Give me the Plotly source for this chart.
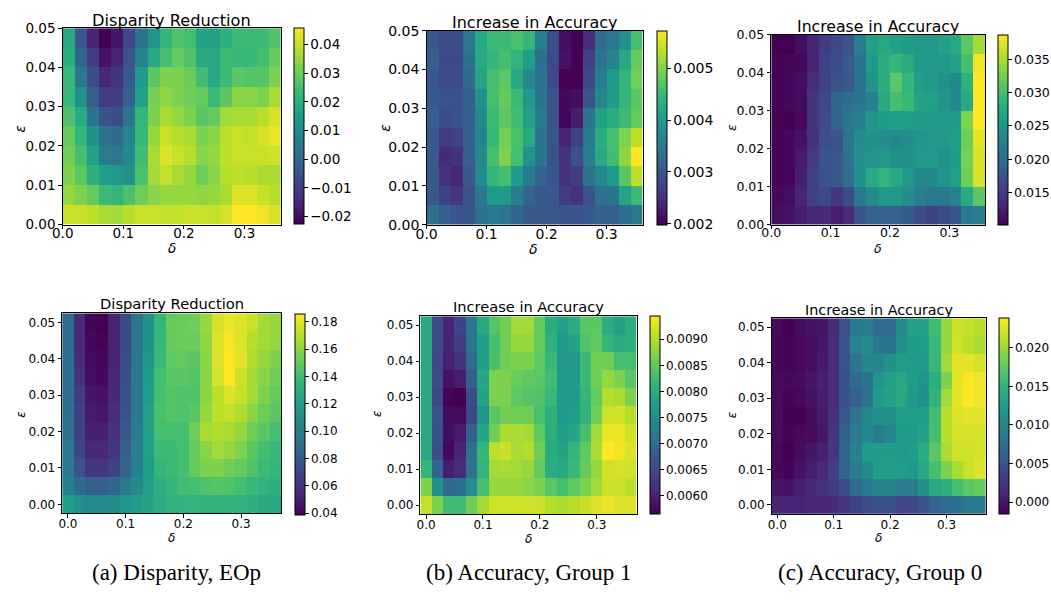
import plotly.graph_objects as go

W, H = 1051, 600

# ---------------- axis categories ----------------
delta_top = [0.01, 0.03, 0.05, 0.07, 0.09, 0.11, 0.13, 0.15, 0.17, 0.19,
             0.21, 0.23, 0.25, 0.27, 0.29, 0.31, 0.33, 0.35]
eps_top = [0.0475, 0.0425, 0.0375, 0.0325, 0.0275, 0.0225, 0.0175, 0.0125, 0.0075, 0.0025]
delta_bot = [0.00, 0.02, 0.04, 0.06, 0.08, 0.10, 0.12, 0.14, 0.16, 0.18,
             0.20, 0.22, 0.24, 0.26, 0.28, 0.30, 0.32, 0.34, 0.36]
eps_bot = [0.050, 0.045, 0.040, 0.035, 0.030, 0.025, 0.020, 0.015, 0.010, 0.005, 0.000]

# ---------------- values (rows listed top -> bottom) ----------------
disparity_top = [
    [0.0184, -0.0035, -0.0159, -0.0227, -0.0186, -0.0076, 0.0033, 0.0129, 0.0225, 0.0266, 0.0253, 0.0170, 0.0163, 0.0205, 0.0239, 0.0239, 0.0239, 0.0266],
    [0.0198, 0.0000, -0.0104, -0.0193, -0.0159, -0.0049, 0.0081, 0.0184, 0.0253, 0.0294, 0.0266, 0.0184, 0.0184, 0.0239, 0.0232, 0.0232, 0.0253, 0.0294],
    [0.0232, 0.0047, -0.0063, -0.0152, -0.0124, -0.0035, 0.0143, 0.0280, 0.0321, 0.0321, 0.0300, 0.0246, 0.0184, 0.0239, 0.0280, 0.0273, 0.0273, 0.0321],
    [0.0232, 0.0116, -0.0022, -0.0104, -0.0104, -0.0015, 0.0163, 0.0314, 0.0342, 0.0321, 0.0307, 0.0294, 0.0239, 0.0280, 0.0335, 0.0335, 0.0321, 0.0369],
    [0.0260, 0.0184, 0.0033, -0.0049, -0.0063, 0.0040, 0.0225, 0.0321, 0.0369, 0.0348, 0.0321, 0.0280, 0.0294, 0.0362, 0.0369, 0.0369, 0.0383, 0.0417],
    [0.0294, 0.0225, 0.0116, 0.0033, 0.0006, 0.0088, 0.0232, 0.0348, 0.0403, 0.0383, 0.0369, 0.0321, 0.0335, 0.0390, 0.0403, 0.0396, 0.0417, 0.0437],
    [0.0307, 0.0253, 0.0163, 0.0061, 0.0047, 0.0102, 0.0246, 0.0369, 0.0424, 0.0403, 0.0383, 0.0335, 0.0348, 0.0390, 0.0403, 0.0403, 0.0403, 0.0410],
    [0.0321, 0.0280, 0.0205, 0.0157, 0.0136, 0.0116, 0.0260, 0.0362, 0.0396, 0.0369, 0.0348, 0.0307, 0.0335, 0.0383, 0.0390, 0.0383, 0.0369, 0.0369],
    [0.0348, 0.0321, 0.0294, 0.0239, 0.0225, 0.0260, 0.0307, 0.0335, 0.0348, 0.0348, 0.0348, 0.0342, 0.0348, 0.0369, 0.0424, 0.0424, 0.0403, 0.0383],
    [0.0403, 0.0403, 0.0390, 0.0369, 0.0362, 0.0383, 0.0403, 0.0403, 0.0396, 0.0396, 0.0403, 0.0403, 0.0396, 0.0417, 0.0458, 0.0458, 0.0444, 0.0417],
]

acc_g1_top = [
    [0.00303, 0.00284, 0.00284, 0.00348, 0.00423, 0.00453, 0.00453, 0.00464, 0.00446, 0.00363, 0.00284, 0.00213, 0.00198, 0.00247, 0.00329, 0.00348, 0.00386, 0.00461],
    [0.00311, 0.00281, 0.00281, 0.00337, 0.00423, 0.00446, 0.00461, 0.00442, 0.00408, 0.00337, 0.00281, 0.00217, 0.00198, 0.00273, 0.00341, 0.00367, 0.00423, 0.00483],
    [0.00303, 0.00284, 0.00284, 0.00326, 0.00416, 0.00461, 0.00476, 0.00423, 0.00374, 0.00341, 0.00281, 0.00198, 0.00198, 0.00281, 0.00356, 0.00404, 0.00446, 0.00491],
    [0.00303, 0.00296, 0.00296, 0.00311, 0.00386, 0.00461, 0.00483, 0.00453, 0.00397, 0.00341, 0.00292, 0.00206, 0.00213, 0.00299, 0.00374, 0.00404, 0.00446, 0.00476],
    [0.00311, 0.00288, 0.00296, 0.00311, 0.00374, 0.00453, 0.00476, 0.00457, 0.00412, 0.00348, 0.00292, 0.00206, 0.00228, 0.00344, 0.00412, 0.00431, 0.00453, 0.00483],
    [0.00303, 0.00266, 0.00273, 0.00311, 0.00367, 0.00449, 0.00491, 0.00464, 0.00423, 0.00341, 0.00299, 0.00236, 0.00273, 0.00352, 0.00431, 0.00461, 0.00498, 0.00536],
    [0.00303, 0.00243, 0.00251, 0.00311, 0.00374, 0.00461, 0.00498, 0.00461, 0.00389, 0.00344, 0.00292, 0.00254, 0.00292, 0.00356, 0.00423, 0.00457, 0.00509, 0.00573],
    [0.00303, 0.00251, 0.00236, 0.00303, 0.00374, 0.00446, 0.00461, 0.00404, 0.00359, 0.00318, 0.00299, 0.00254, 0.00266, 0.00341, 0.00374, 0.00404, 0.00476, 0.00536],
    [0.00303, 0.00273, 0.00258, 0.00296, 0.00348, 0.00404, 0.00404, 0.00356, 0.00318, 0.00303, 0.00303, 0.00266, 0.00254, 0.00296, 0.00337, 0.00344, 0.00416, 0.00453],
    [0.00337, 0.00311, 0.00299, 0.00299, 0.00337, 0.00348, 0.00341, 0.00322, 0.00303, 0.00303, 0.00303, 0.00296, 0.00296, 0.00303, 0.00311, 0.00311, 0.00333, 0.00348],
]

acc_g0_top = [
    [0.0102, 0.0102, 0.0113, 0.0131, 0.0153, 0.0165, 0.0179, 0.0222, 0.0264, 0.0273, 0.0264, 0.0259, 0.0253, 0.0253, 0.0264, 0.0273, 0.0313, 0.0347],
    [0.0105, 0.0108, 0.0108, 0.0131, 0.0159, 0.0168, 0.0185, 0.0213, 0.0256, 0.0279, 0.0290, 0.0276, 0.0259, 0.0256, 0.0253, 0.0264, 0.0302, 0.0381],
    [0.0105, 0.0108, 0.0113, 0.0139, 0.0159, 0.0176, 0.0182, 0.0210, 0.0250, 0.0279, 0.0313, 0.0290, 0.0262, 0.0253, 0.0245, 0.0236, 0.0282, 0.0387],
    [0.0105, 0.0108, 0.0111, 0.0145, 0.0165, 0.0196, 0.0205, 0.0213, 0.0230, 0.0273, 0.0302, 0.0293, 0.0267, 0.0264, 0.0247, 0.0236, 0.0273, 0.0387],
    [0.0105, 0.0102, 0.0108, 0.0145, 0.0168, 0.0193, 0.0216, 0.0225, 0.0250, 0.0259, 0.0262, 0.0262, 0.0259, 0.0259, 0.0256, 0.0259, 0.0330, 0.0387],
    [0.0105, 0.0108, 0.0116, 0.0145, 0.0170, 0.0179, 0.0213, 0.0242, 0.0245, 0.0242, 0.0236, 0.0242, 0.0250, 0.0253, 0.0253, 0.0262, 0.0324, 0.0376],
    [0.0105, 0.0108, 0.0122, 0.0153, 0.0176, 0.0182, 0.0213, 0.0247, 0.0250, 0.0253, 0.0245, 0.0247, 0.0253, 0.0253, 0.0245, 0.0259, 0.0327, 0.0370],
    [0.0105, 0.0108, 0.0125, 0.0159, 0.0176, 0.0182, 0.0207, 0.0247, 0.0273, 0.0287, 0.0273, 0.0253, 0.0236, 0.0236, 0.0250, 0.0264, 0.0324, 0.0370],
    [0.0108, 0.0113, 0.0131, 0.0159, 0.0165, 0.0148, 0.0170, 0.0216, 0.0239, 0.0253, 0.0253, 0.0242, 0.0222, 0.0216, 0.0216, 0.0230, 0.0273, 0.0313],
    [0.0113, 0.0116, 0.0125, 0.0136, 0.0136, 0.0125, 0.0139, 0.0176, 0.0190, 0.0190, 0.0190, 0.0185, 0.0168, 0.0159, 0.0168, 0.0179, 0.0213, 0.0222],
]

disparity_eop = [
    [0.0905, 0.0566, 0.0405, 0.0390, 0.0537, 0.0713, 0.0949, 0.1125, 0.1360, 0.1507, 0.1522, 0.1537, 0.1625, 0.1772, 0.1816, 0.1787, 0.1742, 0.1654, 0.1625],
    [0.0905, 0.0566, 0.0419, 0.0405, 0.0537, 0.0713, 0.0963, 0.1140, 0.1375, 0.1507, 0.1522, 0.1522, 0.1610, 0.1787, 0.1845, 0.1787, 0.1698, 0.1654, 0.1625],
    [0.0919, 0.0581, 0.0434, 0.0419, 0.0537, 0.0728, 0.0978, 0.1154, 0.1390, 0.1493, 0.1507, 0.1478, 0.1595, 0.1787, 0.1860, 0.1801, 0.1684, 0.1625, 0.1566],
    [0.0919, 0.0611, 0.0449, 0.0419, 0.0552, 0.0743, 0.0978, 0.1199, 0.1404, 0.1478, 0.1478, 0.1463, 0.1595, 0.1772, 0.1860, 0.1757, 0.1654, 0.1595, 0.1537],
    [0.0919, 0.0655, 0.0478, 0.0464, 0.0566, 0.0758, 0.0978, 0.1213, 0.1419, 0.1463, 0.1448, 0.1448, 0.1595, 0.1713, 0.1787, 0.1742, 0.1654, 0.1566, 0.1507],
    [0.0934, 0.0684, 0.0493, 0.0478, 0.0581, 0.0772, 0.0993, 0.1228, 0.1434, 0.1463, 0.1448, 0.1478, 0.1625, 0.1713, 0.1728, 0.1684, 0.1595, 0.1522, 0.1478],
    [0.0949, 0.0684, 0.0522, 0.0522, 0.0596, 0.0802, 0.1007, 0.1228, 0.1419, 0.1419, 0.1419, 0.1537, 0.1669, 0.1684, 0.1669, 0.1625, 0.1537, 0.1478, 0.1419],
    [0.0978, 0.0713, 0.0552, 0.0552, 0.0625, 0.0831, 0.1022, 0.1228, 0.1390, 0.1390, 0.1419, 0.1507, 0.1595, 0.1654, 0.1625, 0.1566, 0.1478, 0.1419, 0.1375],
    [0.0978, 0.0772, 0.0625, 0.0625, 0.0684, 0.0860, 0.1037, 0.1213, 0.1360, 0.1390, 0.1419, 0.1507, 0.1566, 0.1566, 0.1537, 0.1507, 0.1448, 0.1390, 0.1360],
    [0.1037, 0.0890, 0.0831, 0.0831, 0.0875, 0.0978, 0.1096, 0.1228, 0.1316, 0.1360, 0.1404, 0.1419, 0.1448, 0.1463, 0.1448, 0.1419, 0.1375, 0.1346, 0.1316],
    [0.1213, 0.1125, 0.1096, 0.1096, 0.1110, 0.1154, 0.1199, 0.1243, 0.1301, 0.1331, 0.1346, 0.1346, 0.1331, 0.1331, 0.1331, 0.1331, 0.1316, 0.1287, 0.1272],
]

acc_group1 = [
    [0.00792, 0.00652, 0.00603, 0.00641, 0.00717, 0.00792, 0.00842, 0.00861, 0.00891, 0.00891, 0.00853, 0.00800, 0.00781, 0.00800, 0.00845, 0.00845, 0.00800, 0.00781, 0.00800],
    [0.00792, 0.00652, 0.00603, 0.00633, 0.00713, 0.00777, 0.00830, 0.00861, 0.00883, 0.00883, 0.00853, 0.00808, 0.00770, 0.00785, 0.00838, 0.00849, 0.00815, 0.00796, 0.00804],
    [0.00792, 0.00648, 0.00599, 0.00622, 0.00694, 0.00777, 0.00834, 0.00861, 0.00868, 0.00868, 0.00849, 0.00819, 0.00766, 0.00766, 0.00823, 0.00861, 0.00861, 0.00830, 0.00830],
    [0.00792, 0.00652, 0.00584, 0.00595, 0.00679, 0.00789, 0.00868, 0.00868, 0.00857, 0.00849, 0.00845, 0.00827, 0.00770, 0.00770, 0.00823, 0.00861, 0.00883, 0.00868, 0.00845],
    [0.00792, 0.00648, 0.00569, 0.00565, 0.00652, 0.00785, 0.00868, 0.00868, 0.00849, 0.00842, 0.00838, 0.00819, 0.00773, 0.00770, 0.00815, 0.00853, 0.00902, 0.00895, 0.00868],
    [0.00792, 0.00664, 0.00576, 0.00576, 0.00648, 0.00762, 0.00845, 0.00861, 0.00861, 0.00861, 0.00834, 0.00804, 0.00773, 0.00777, 0.00811, 0.00861, 0.00917, 0.00917, 0.00902],
    [0.00792, 0.00660, 0.00580, 0.00592, 0.00679, 0.00789, 0.00861, 0.00895, 0.00895, 0.00891, 0.00849, 0.00800, 0.00777, 0.00789, 0.00830, 0.00891, 0.00933, 0.00933, 0.00917],
    [0.00792, 0.00656, 0.00573, 0.00603, 0.00705, 0.00815, 0.00906, 0.00914, 0.00895, 0.00902, 0.00861, 0.00800, 0.00785, 0.00815, 0.00849, 0.00895, 0.00944, 0.00936, 0.00925],
    [0.00815, 0.00686, 0.00595, 0.00614, 0.00709, 0.00811, 0.00891, 0.00895, 0.00891, 0.00883, 0.00853, 0.00800, 0.00792, 0.00819, 0.00853, 0.00883, 0.00917, 0.00921, 0.00917],
    [0.00868, 0.00755, 0.00694, 0.00705, 0.00751, 0.00830, 0.00883, 0.00883, 0.00883, 0.00876, 0.00868, 0.00845, 0.00830, 0.00849, 0.00868, 0.00891, 0.00914, 0.00914, 0.00906],
    [0.00910, 0.00868, 0.00827, 0.00827, 0.00861, 0.00891, 0.00917, 0.00917, 0.00917, 0.00917, 0.00914, 0.00902, 0.00895, 0.00902, 0.00914, 0.00925, 0.00933, 0.00925, 0.00925],
]

acc_group0 = [
    [-0.00109, -0.00160, -0.00084, -0.00033, -0.00008, 0.00145, 0.00500, 0.00881, 0.00907, 0.00729, 0.00729, 0.01059, 0.01288, 0.01313, 0.01593, 0.01974, 0.02177, 0.02151, 0.02101],
    [-0.00109, -0.00135, -0.00109, -0.00058, -0.00008, 0.00170, 0.00500, 0.00983, 0.01085, 0.00831, 0.00831, 0.01110, 0.01237, 0.01262, 0.01542, 0.01974, 0.02202, 0.02126, 0.02050],
    [-0.00109, -0.00135, -0.00109, -0.00058, 0.00018, 0.00170, 0.00500, 0.00831, 0.01034, 0.01008, 0.01135, 0.01262, 0.01237, 0.01212, 0.01542, 0.02024, 0.02278, 0.02278, 0.02228],
    [-0.00084, -0.00109, -0.00084, -0.00008, 0.00069, 0.00170, 0.00475, 0.00704, 0.00805, 0.01161, 0.01288, 0.01364, 0.01237, 0.01161, 0.01440, 0.01872, 0.02278, 0.02380, 0.02329],
    [-0.00084, -0.00135, -0.00109, -0.00033, 0.00043, 0.00170, 0.00475, 0.00627, 0.00805, 0.01237, 0.01313, 0.01364, 0.01186, 0.01110, 0.01491, 0.02024, 0.02278, 0.02380, 0.02329],
    [-0.00084, -0.00160, -0.00160, -0.00084, 0.00018, 0.00196, 0.00551, 0.00831, 0.01034, 0.01110, 0.01110, 0.01262, 0.01262, 0.01262, 0.01593, 0.02101, 0.02253, 0.02278, 0.02278],
    [-0.00084, -0.00135, -0.00109, -0.00084, -0.00008, 0.00221, 0.00602, 0.00907, 0.01034, 0.00907, 0.01008, 0.01237, 0.01237, 0.01313, 0.01618, 0.02101, 0.02228, 0.02228, 0.02228],
    [-0.00109, -0.00160, -0.00084, -0.00008, 0.00069, 0.00246, 0.00653, 0.00983, 0.01237, 0.01237, 0.01237, 0.01212, 0.01262, 0.01415, 0.01720, 0.02050, 0.02202, 0.02202, 0.02228],
    [-0.00109, -0.00135, -0.00033, 0.00043, 0.00145, 0.00297, 0.00653, 0.00907, 0.01059, 0.01262, 0.01262, 0.01262, 0.01212, 0.01364, 0.01618, 0.01872, 0.02050, 0.02177, 0.02253],
    [-0.00008, -0.00033, 0.00043, 0.00145, 0.00196, 0.00297, 0.00450, 0.00729, 0.00881, 0.00983, 0.00983, 0.00907, 0.00907, 0.01110, 0.01364, 0.01440, 0.01618, 0.01720, 0.01770],
    [0.00094, 0.00094, 0.00094, 0.00119, 0.00119, 0.00145, 0.00221, 0.00348, 0.00424, 0.00475, 0.00475, 0.00373, 0.00399, 0.00526, 0.00653, 0.00729, 0.00780, 0.00831, 0.00881],
]

# colorbar ticks
cb_ticks_1 = [-0.02, -0.01, 0.00, 0.01, 0.02, 0.03, 0.04]
cb_ticks_2 = [0.002, 0.003, 0.004, 0.005]
cb_ticks_3 = [0.015, 0.020, 0.025, 0.030, 0.035]
cb_ticks_4 = [0.04, 0.06, 0.08, 0.10, 0.12, 0.14, 0.16, 0.18]
cb_ticks_5 = [0.0060, 0.0065, 0.0070, 0.0075, 0.0080, 0.0085, 0.0090]
cb_ticks_6 = [0.000, 0.005, 0.010, 0.015, 0.020]

titles = ["Disparity Reduction", "Increase in Accuracy", "Increase in Accuracy",
          "Disparity Reduction", "Increase in Accuracy", "Increase in Accuracy"]
captions = ["(a) Disparity, EOp", "(b) Accuracy, Group 1", "(c) Accuracy, Group 0"]

# ---------------- layout (pixels) ----------------
panels = [
    dict(z=disparity_top, x=delta_top, y=eps_top, xr=[0, 0.36], yr=[0, 0.05],
         l=52.3, r=272.7, t=20.7, b=222.5, cbx=286, cbt=20.7, cbb=222.5, so=-7,
         cbticks=cb_ticks_1, cbfmt=".2f", fs=13.5, tfs=16.2, ty=13, dx=162.5, dy=247, ex=9, ey=124),
    dict(z=acc_g1_top, x=delta_top, y=eps_top, xr=[0, 0.36], yr=[0, 0.05],
         l=420.0, r=638.3, t=23.3, b=222.7, cbx=652.5, cbt=23.3, cbb=222.7, so=-7,
         cbticks=cb_ticks_2, cbfmt=".3f", fs=14, tfs=16, ty=15, dx=528.5, dy=248, ex=378, ey=123),
    dict(z=acc_g0_top, x=delta_top, y=eps_top, xr=[0, 0.36], yr=[0, 0.05],
         l=768.3, r=984.3, t=27.3, b=222.7, cbx=997.5, cbt=27.3, cbb=222.7, so=-7,
         cbticks=cb_ticks_3, cbfmt=".3f", fs=12.5, tfs=15.7, ty=19, dx=876.5, dy=247.5, ex=728, ey=123),
    dict(z=disparity_eop, x=delta_bot, y=eps_bot, xr=[-0.01, 0.37], yr=[-0.0025, 0.0525],
         l=51.7, r=273.3, t=313.7, b=519.3, cbx=287, cbt=314, cbb=520, so=-4,
         cbticks=cb_ticks_4, cbfmt=".2f", fs=12, tfs=14.7, ty=304, dx=162, dy=545, ex=10, ey=417),
    dict(z=acc_group1, x=delta_bot, y=eps_bot, xr=[-0.01, 0.37], yr=[-0.0025, 0.0525],
         l=413.7, r=632.3, t=316.7, b=520, cbx=645.5, cbt=316.7, cbb=520, so=-4,
         cbticks=cb_ticks_5, cbfmt=".4f", fs=12, tfs=14.6, ty=307, dx=522.5, dy=546, ex=370, ey=417),
    dict(z=acc_group0, x=delta_bot, y=eps_bot, xr=[-0.01, 0.37], yr=[-0.0025, 0.0525],
         l=768.7, r=985.3, t=318.7, b=519.7, cbx=998, cbt=319, cbb=520, so=-4,
         cbticks=cb_ticks_6, cbfmt=".3f", fs=12, tfs=14.3, ty=310, dx=876.5, dy=545, ex=728, ey=418),
]
caption_x = [167, 523, 878]
caption_y = 580

FONT = "DejaVu Sans"

def fx(p):
    return p / W

def fy(p):
    return 1 - p / H

fig = go.Figure()
layout = dict(width=W, height=H, margin=dict(l=0, r=0, t=0, b=0),
              paper_bgcolor="white", plot_bgcolor="white", showlegend=False)
annotations = []

for i, p in enumerate(panels, start=1):
    xa = "x" if i == 1 else f"x{i}"
    ya = "y" if i == 1 else f"y{i}"
    fig.add_trace(go.Heatmap(
        z=p["z"], x=p["x"], y=p["y"], xaxis=xa, yaxis=ya,
        colorscale="Viridis", hoverinfo="skip",
        colorbar=dict(
            x=fx(p["cbx"]), xanchor="left", xpad=0,
            y=fy(p["cbt"]), yanchor="top", ypad=0,
            len=(p["cbb"] - p["cbt"]) / H, lenmode="fraction",
            thickness=10, thicknessmode="pixels",
            outlinewidth=1, outlinecolor="black",
            ticks="outside", ticklen=3.5, tickwidth=1, tickcolor="black",
            tickvals=p["cbticks"], tickformat=p["cbfmt"],
            tickfont=dict(family=FONT, size=p["fs"], color="black"),
        ),
    ))
    xkey = "xaxis" if i == 1 else f"xaxis{i}"
    ykey = "yaxis" if i == 1 else f"yaxis{i}"
    common = dict(showgrid=False, zeroline=False, showline=True, mirror=True,
                  linecolor="black", linewidth=1, ticks="outside", ticklen=3.5,
                  tickwidth=1, tickcolor="black",
                  tickfont=dict(family=FONT, size=p["fs"], color="black"))
    layout[xkey] = dict(domain=[fx(p["l"]), fx(p["r"])], anchor=ya, range=p["xr"],
                        tickvals=[0.0, 0.1, 0.2, 0.3], tickformat=".1f",
                        ticklabelstandoff=p["so"], **common)
    layout[ykey] = dict(domain=[fy(p["b"]), fy(p["t"])], anchor=xa, range=p["yr"],
                        tickvals=[0.0, 0.01, 0.02, 0.03, 0.04, 0.05], tickformat=".2f", **common)
    annotations.append(dict(text=titles[i - 1], x=fx((p["l"] + p["r"]) / 2), y=fy(p["ty"]),
                            xref="paper", yref="paper", xanchor="center", yanchor="middle",
                            showarrow=False, font=dict(family=FONT, size=p["tfs"], color="black")))
    annotations.append(dict(text="<i>δ</i>", x=fx(p["dx"]), y=fy(p["dy"]),
                            xref="paper", yref="paper", xanchor="center", yanchor="middle",
                            showarrow=False, font=dict(family=FONT, size=p["fs"], color="black")))
    annotations.append(dict(text="<i>ε</i>", x=fx(p["ex"]), y=fy(p["ey"]), textangle=-90,
                            xref="paper", yref="paper", xanchor="center", yanchor="middle",
                            showarrow=False, font=dict(family=FONT, size=p["fs"], color="black")))

for cx, cap in zip(caption_x, captions):
    annotations.append(dict(text=cap, x=fx(cx), y=fy(caption_y), xref="paper", yref="paper",
                            xanchor="center", yanchor="middle", showarrow=False,
                            font=dict(family="Liberation Serif", size=23, color="black")))

layout["annotations"] = annotations
fig.update_layout(**layout)
fig.write_html("out.html")
